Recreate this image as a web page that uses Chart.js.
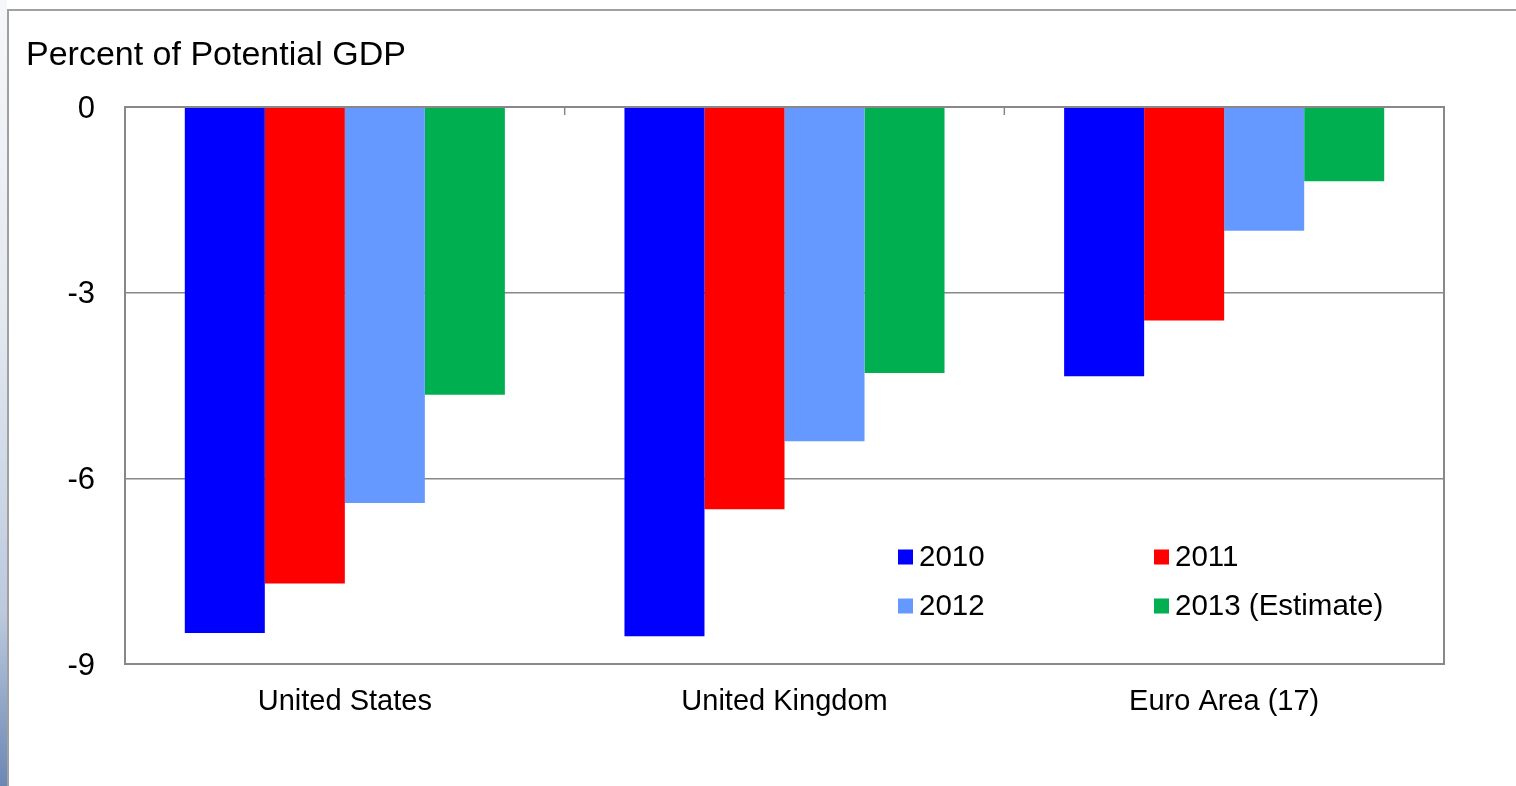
<!DOCTYPE html>
<html>
<head>
<meta charset="utf-8">
<script src="https://cdn.jsdelivr.net/npm/chart.js"></script>
<style>
  html, body { margin: 0; padding: 0; background: #fff; }
  #wrap { position: relative; width: 1516px; height: 786px; overflow: hidden; }
  #strip { position: absolute; left: 0; top: 0; width: 7px; height: 786px;
    background: linear-gradient(to bottom, #f6f7f9 0%, #e4e9f0 40%, #bccade 78%, #6b87b4 100%); }
  #frame { position: absolute; left: 7px; top: 9px; width: 1520px; height: 800px;
    border-top: 2px solid #a0a0a0; border-left: 2px solid #a0a0a0; }
  canvas { position: absolute; left: 0; top: 0; }
</style>
</head>
<body>
<div id="wrap">
  <div id="strip"></div>
  <div id="frame"></div>
  <canvas id="gapChart" width="1516" height="786"></canvas>
</div>
<script>
// Output gap, percent of potential GDP
const regions = ["United States", "United Kingdom", "Euro Area (17)"];
const years = ["2010", "2011", "2012", "2013 (Estimate)"];
const gap2010 = [-8.5, -8.55, -4.35];
const gap2011 = [-7.7, -6.5, -3.45];
const gap2012 = [-6.4, -5.4, -2.0];
const gap2013 = [-4.65, -4.3, -1.2];
const yTicks = [0, -3, -6, -9];

const colors = ["#0000ff", "#ff0000", "#6699ff", "#00b050"];
const FONT = "'Liberation Sans', Arial, sans-serif";

// title, plot frame, category tick marks and in-plot legend
const extras = {
  id: "extras",
  afterDatasetsDraw(chart) {
    const ctx = chart.ctx;
    const a = chart.chartArea;
    const x = chart.scales.x;
    ctx.save();
    ctx.strokeStyle = "#888888";
    ctx.lineWidth = 2;
    ctx.strokeRect(a.left, a.top, a.right - a.left, a.bottom - a.top);
    ctx.lineWidth = 1.5;
    for (let i = 0; i < regions.length - 1; i++) {
      const bx = (x.getPixelForValue(i) + x.getPixelForValue(i + 1)) / 2;
      ctx.beginPath();
      ctx.moveTo(bx, a.top);
      ctx.lineTo(bx, a.top + 8);
      ctx.stroke();
    }

    // legend, 2 x 2
    ctx.font = "29.5px " + FONT;
    ctx.textBaseline = "middle";
    ctx.fillStyle = "#000";
    const cols = [898, 1154];
    const rows = [557, 606];
    chart.data.datasets.forEach((ds, i) => {
      const lx = cols[i % 2], ly = rows[Math.floor(i / 2)];
      ctx.fillStyle = ds.backgroundColor;
      ctx.fillRect(lx, ly - 7.5, 15, 15);
      ctx.fillStyle = "#000";
      ctx.fillText(ds.label, lx + 21, ly + 1);
    });

    // title
    ctx.font = "34px " + FONT;
    ctx.textBaseline = "alphabetic";
    ctx.fillText("Percent of Potential GDP", 26, 65);
    ctx.restore();
  }
};

new Chart(document.getElementById("gapChart").getContext("2d"), {
  type: "bar",
  data: {
    labels: regions,
    datasets: [gap2010, gap2011, gap2012, gap2013].map((d, i) => ({
      label: years[i],
      data: d,
      backgroundColor: colors[i],
      borderWidth: 0,
      categoryPercentage: 0.728,
      barPercentage: 1.0
    }))
  },
  options: {
    responsive: false,
    animation: false,
    layout: { padding: { top: 107, right: 72, bottom: 0, left: 0 } },
    plugins: {
      legend: { display: false },
      title: { display: false },
      tooltip: { enabled: false }
    },
    scales: {
      x: {
        grid: { display: false, drawTicks: false },
        border: { display: false },
        ticks: { color: "#000", font: { family: FONT, size: 29 }, padding: 21, maxRotation: 0 },
        afterFit(s) { s.height = 122; }
      },
      y: {
        min: -9,
        max: 0,
        afterBuildTicks(s) { s.ticks = yTicks.map(v => ({ value: v })); },
        grid: { color: "#888888", lineWidth: 1.5, drawTicks: false },
        border: { display: false },
        ticks: { color: "#000", font: { family: FONT, size: 31 }, padding: 30, labelOffset: 2 },
        afterFit(s) { s.width = 125; }
      }
    }
  },
  plugins: [extras]
});
</script>
</body>
</html>
